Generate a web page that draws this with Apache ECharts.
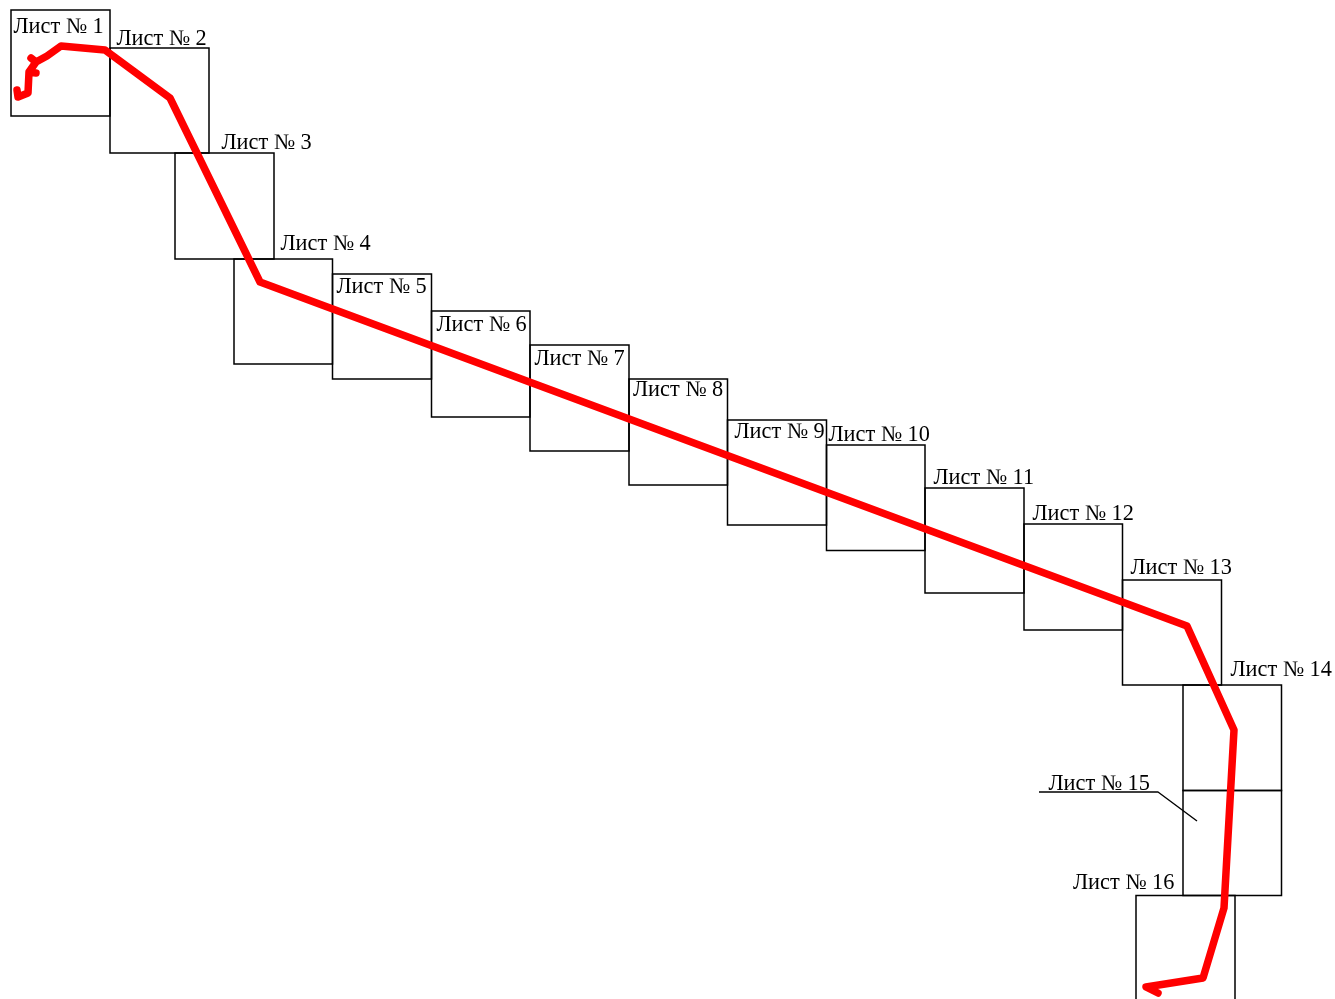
<!DOCTYPE html>
<html><head><meta charset="utf-8">
<style>html,body{margin:0;padding:0;background:#fff}#c{width:1335px;height:999px}</style>
<script src="https://cdn.jsdelivr.net/npm/echarts@6/dist/echarts.min.js"></script>
</head><body><div id="c"></div>
<script>
const sheetNames = ['Лист № 1','Лист № 2','Лист № 3','Лист № 4','Лист № 5','Лист № 6','Лист № 7','Лист № 8','Лист № 9','Лист № 10','Лист № 11','Лист № 12','Лист № 13','Лист № 14','Лист № 15','Лист № 16'];
const sheetX0 = [11,110,175,234,332.5,431.5,530,629,727.5,826.5,925,1024,1122.5,1183,1183,1136];
const sheetY0 = [10,48,153,259,274,311,345,379,420,445,488,524,580,685,790.5,895.5];
const sheetX1 = [110,209,274,332.5,431.5,530,629,727.5,826.5,925,1024,1122.5,1221.5,1281.5,1281.5,1235];
const sheetY1 = [116,153,259,364,379,417,451,485,525,550.5,593,630,685,790.5,895.5,1003];
const labelX = [13.5,116.5,221.5,280.5,336.5,436.5,534.5,633,734.5,828.5,933.5,1032.5,1130.5,1230.5,1048.5,1073];
const labelY = [38,50,154,255,298,336,370,401,443,446,489,525,579,681,795,894];
const routeX = [17,18,28,29,36,29,36,31,36,47,61,105,170,260,1187,1234,1224,1203,1146,1158];
const routeY = [90,97,93,72,73,72,62,58,62,56,46,50,98,282,626,730,908,978,987,993];
const leaderX = [1039,1158,1197];
const leaderY = [792,792,821];

const rects = sheetNames.map((n,i)=>[sheetX0[i],sheetY0[i],sheetX1[i],sheetY1[i]]);
const labels = sheetNames.map((n,i)=>[labelX[i],labelY[i],n]);
const chart = echarts.init(document.getElementById('c'),null,{renderer:'canvas'});
chart.setOption({
  animation:false,
  backgroundColor:'#fff',
  grid:{left:0,right:0,top:0,bottom:0},
  xAxis:{type:'value',min:0,max:1335,show:false},
  yAxis:{type:'value',min:0,max:999,inverse:true,show:false},
  series:[
    {type:'custom',silent:true,clip:true,data:rects,z:1,
     renderItem(p,api){
       const a=api.coord([api.value(0),api.value(1)]),b=api.coord([api.value(2),api.value(3)]);
       return {type:'rect',shape:{x:a[0],y:a[1],width:b[0]-a[0],height:b[1]-a[1]},
         style:{fill:'none',stroke:'#000',lineWidth:1.5}};
     }},
    {type:'line',silent:true,symbol:'none',z:2,data:leaderX.map((x,i)=>[x,leaderY[i]]),
     lineStyle:{color:'#000',width:1.4}},
    {type:'custom',silent:true,data:labels,z:3,encode:{x:0,y:1},
     renderItem(p,api){
       const a=api.coord([api.value(0),api.value(1)]);
       return {type:'text',x:a[0],y:a[1],style:{text:labels[p.dataIndex][2],fill:'#000',
         font:'22.3px "Liberation Serif"',textAlign:'left',textVerticalAlign:'bottom'}};
     }},
    {type:'line',silent:true,symbol:'none',z:4,data:routeX.map((x,i)=>[x,routeY[i]]),
     lineStyle:{color:'#ff0000',width:7.5,cap:'round',join:'round'}}
  ]
});
</script></body></html>
